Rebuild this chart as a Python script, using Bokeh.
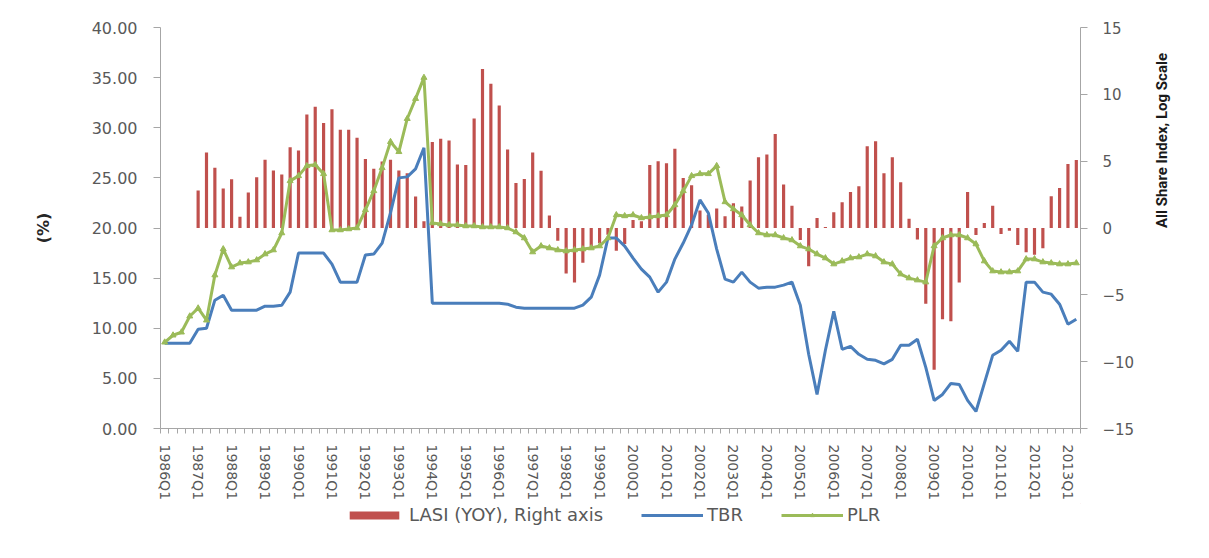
import math
from bokeh.plotting import figure
from bokeh.layouts import column
from bokeh.models import (Range1d, LinearAxis, SingleIntervalTicker, FixedTicker,
                          NumeralTickFormatter, Legend, LegendItem, ColumnDataSource)
from bokeh.embed import file_html
from bokeh.resources import INLINE

NaN = float("nan")

# categories: 1986Q1 .. 2013Q2
years = list(range(1986, 2014))
quarters = [f"{y}Q{q}" for y in years for q in range(1, 5)][:110]

# Treasury bill rate (%), left axis
tbr = [8.5, 8.5, 8.5, 8.5, 9.9, 10.0, 12.8, 13.3, 11.8, 11.8,
       11.8, 11.8, 12.2, 12.2, 12.3, 13.6, 17.5, 17.5, 17.5, 17.5,
       16.4, 14.6, 14.6, 14.6, 17.3, 17.4, 18.5, 21.5, 25.0, 25.1,
       25.9, 28.0, 12.5, 12.5, 12.5, 12.5, 12.5, 12.5, 12.5, 12.5,
       12.5, 12.4, 12.1, 12.0, 12.0, 12.0, 12.0, 12.0, 12.0, 12.0,
       12.3, 13.1, 15.3, 19.0, 19.0, 18.2, 17.0, 15.9, 15.1, 13.6,
       14.6, 16.9, 18.5, 20.3, 22.8, 21.5, 17.9, 14.9, 14.6, 15.6,
       14.6, 14.0, 14.1, 14.1, 14.3, 14.6, 12.3, 7.4, 3.4, 7.8,
       11.7, 7.9, 8.2, 7.4, 6.9, 6.8, 6.45, 6.9, 8.3, 8.3,
       8.9, 6.1, 2.8, 3.4, 4.5, 4.4, 2.8, 1.7, 4.5, 7.3,
       7.8, 8.7, 7.7, 14.6, 14.6, 13.6, 13.4, 12.4, 10.4, 10.9]

# Prime lending rate (%), left axis
plr = [8.6, 9.3, 9.6, 11.2, 12.0, 10.8, 15.3, 17.9, 16.1, 16.5,
       16.6, 16.8, 17.4, 17.8, 19.5, 24.7, 25.2, 26.2, 26.3, 25.4,
       19.8, 19.8, 19.9, 20.0, 21.8, 23.7, 26.0, 28.6, 27.6, 30.9,
       32.9, 35.0, 20.5, 20.4, 20.3, 20.3, 20.2, 20.2, 20.1, 20.1,
       20.1, 20.0, 19.6, 19.0, 17.6, 18.2, 18.0, 17.8, 17.7, 17.8,
       17.9, 18.0, 18.2, 19.0, 21.3, 21.2, 21.3, 21.0, 21.1, 21.2,
       21.3, 22.3, 23.7, 25.2, 25.4, 25.4, 26.2, 22.6, 21.9, 21.3,
       20.3, 19.5, 19.3, 19.3, 19.0, 18.8, 18.2, 17.9, 17.4, 17.0,
       16.4, 16.7, 17.0, 17.1, 17.4, 17.2, 16.6, 16.4, 15.4, 15.0,
       14.8, 14.6, 18.2, 19.0, 19.3, 19.3, 19.0, 18.4, 16.7, 15.7,
       15.6, 15.6, 15.7, 16.9, 16.9, 16.6, 16.5, 16.4, 16.4, 16.5]

# LASI year-on-year, right axis
lasi = [NaN, NaN, NaN, NaN, 2.8, 5.65, 4.5, 2.95, 3.65, 0.85,
        2.65, 3.8, 5.1, 4.3, 4.0, 6.05, 5.8, 8.5, 9.07, 7.85,
        8.88, 7.35, 7.35, 6.75, 5.16, 4.43, 4.97, 5.1, 4.3, 4.1,
        2.35, 0.5, 6.43, 6.68, 6.55, 4.75, 4.72, 8.19, 11.9, 10.8,
        9.17, 5.87, 3.37, 3.67, 5.64, 4.28, 0.93, -0.95, -3.4, -4.08,
        -2.6, -1.4, -1.15, -0.5, -1.7, -1.2, 0.6, 0.5, 4.72, 5.0,
        4.84, 5.92, 3.74, 3.2, 1.3, 1.0, 1.45, 0.88, 1.86, 1.6,
        3.55, 5.3, 5.5, 7.04, 3.25, 1.67, -0.9, -2.86, 0.75, 0.08,
        1.17, 1.93, 2.7, 3.13, 6.11, 6.49, 4.1, 5.3, 3.42, 0.7,
        -0.86, -5.67, -10.6, -6.82, -6.97, -4.08, 2.7, -0.52, 0.37, 1.66,
        -0.45, -0.2, -1.27, -1.82, -2.0, -1.52, 2.38, 3.0, 4.79, 5.08]

series_names = ["LASI (YOY), Right axis", "TBR", "PLR"]
left_title = "(%)"
right_title = "All Share Index, Log Scale"

N = len(quarters)
src = ColumnDataSource(dict(pos=list(range(N)), quarter=quarters,
                            tbr=tbr, plr=plr, lasi=lasi))

TICK_COLOR = "#595959"
AXIS_COLOR = "#a6a6a6"
RED, BLUE, GREEN = "#c0504d", "#4a7ebb", "#9bbb59"

p = figure(x_range=Range1d(-0.5, N - 0.5), y_range=Range1d(0, 40),
           x_axis_location=None,
           width=1200, height=503, output_backend="svg", toolbar_location=None,
           min_border_left=160, min_border_right=120, min_border_top=27,
           min_border_bottom=67)
p.extra_y_ranges = {"right": Range1d(-15, 15)}
p.outline_line_color = None
p.xgrid.grid_line_color = None
p.ygrid.grid_line_color = None

p.vbar(x="pos", top="lasi", bottom=0, width=0.38, source=src,
       y_range_name="right", fill_color=RED, line_color=None)
p.line("pos", "tbr", source=src, line_color=BLUE, line_width=3)
p.line("pos", "plr", source=src, line_color=GREEN, line_width=3)
p.scatter("pos", "plr", source=src, marker="triangle", size=6,
          fill_color=GREEN, line_color=GREEN)

# x axis: label every first quarter, tick marks at category boundaries
label_idx = [i for i, q in enumerate(quarters) if q.endswith("Q1")]
xa = LinearAxis(ticker=FixedTicker(ticks=label_idx,
                                   minor_ticks=[i - 0.5 for i in range(N + 1)]))
xa.major_label_overrides = {i: quarters[i] for i in label_idx}
xa.major_label_orientation = "vertical"
xa.major_label_text_font = "DejaVu Sans"
xa.major_label_text_font_size = "14px"
xa.major_label_text_color = TICK_COLOR
xa.major_label_standoff = 11
xa.major_tick_out = 0
xa.major_tick_in = 0
xa.minor_tick_out = 5
xa.minor_tick_in = 0
xa.minor_tick_line_color = AXIS_COLOR
xa.axis_line_color = AXIS_COLOR
p.add_layout(xa, "below")

# left axis
ya = p.yaxis[0]
ya.ticker = SingleIntervalTicker(interval=5)
ya.formatter = NumeralTickFormatter(format="0.00")
ya.major_label_text_font = "DejaVu Sans"
ya.major_label_text_font_size = "16px"
ya.major_label_text_color = TICK_COLOR
ya.major_tick_out = 7
ya.major_tick_in = 0
ya.minor_tick_line_color = None
ya.major_tick_line_color = AXIS_COLOR
ya.axis_line_color = AXIS_COLOR
ya.major_label_standoff = 16
ya.axis_label = left_title
ya.axis_label_text_font = "DejaVu Sans"
ya.axis_label_text_font_size = "16px"
ya.axis_label_text_font_style = "bold"
ya.axis_label_text_color = "#262626"
ya.axis_label_standoff = 36

# right axis with its title
ra = LinearAxis(y_range_name="right", ticker=SingleIntervalTicker(interval=5))
ra.major_label_text_font = "DejaVu Sans"
ra.major_label_text_font_size = "15px"
ra.major_label_text_color = TICK_COLOR
ra.major_tick_out = 7
ra.major_tick_in = 0
ra.minor_tick_line_color = None
ra.major_tick_line_color = AXIS_COLOR
ra.axis_line_color = AXIS_COLOR
ra.major_label_standoff = 15
ra.axis_label = right_title
ra.axis_label_text_font = "Roboto"
ra.axis_label_text_font_size = "15px"
ra.axis_label_text_font_style = "bold"
ra.axis_label_text_color = "#1a1a1a"
ra.axis_label_standoff = 25
try:
    ra.axis_label_orientation = math.pi / 2   # read bottom-to-top
except Exception:
    pass
p.add_layout(ra, "right")

# legend strip below the chart (its frame is aligned with the chart's frame);
# the key glyphs sit outside the strip's visible range, only the legend shows them
lg = figure(width=1200, height=22, output_backend="svg", toolbar_location=None,
            x_axis_location=None, y_axis_location=None, min_border=0,
            x_range=Range1d(0, 1), y_range=Range1d(0, 1))
lg.outline_line_color = None
lg.grid.visible = False
k_bar = lg.vbar(x=[5], top=[6], bottom=[5], width=0.4, fill_color=RED, line_color=None)
k_tbr = lg.line(x=[5, 6], y=[5, 5], line_color=BLUE, line_width=3)
k_plr = lg.line(x=[5, 6], y=[5, 5], line_color=GREEN, line_width=3)
k_plm = lg.scatter(x=[5], y=[5], marker="triangle", size=6,
                   fill_color=GREEN, line_color=GREEN)
legend = Legend(items=[LegendItem(label=series_names[0], renderers=[k_bar]),
                       LegendItem(label=series_names[1], renderers=[k_tbr]),
                       LegendItem(label=series_names[2], renderers=[k_plr, k_plm])],
                orientation="horizontal", location=(183, 0),
                glyph_width=62, glyph_height=10, label_standoff=4, spacing=38,
                label_text_font="DejaVu Sans", label_text_font_size="18px",
                label_text_color=TICK_COLOR, border_line_color=None,
                background_fill_alpha=0, padding=1, margin=0)
lg.add_layout(legend, "center")

open("out.html", "w").write(file_html(column(p, lg), INLINE))
